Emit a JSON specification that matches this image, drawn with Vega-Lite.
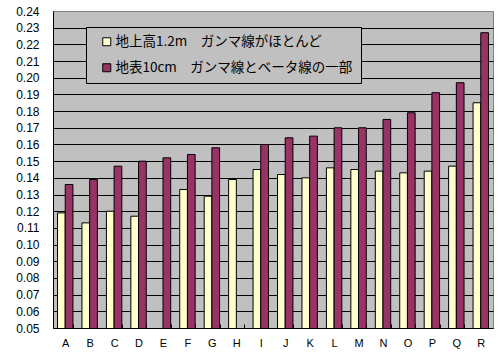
{
  "$schema": "https://vega.github.io/schema/vega-lite/v6.json",
  "width": 440,
  "height": 317,
  "autosize": {"type": "none"},
  "padding": {"left": 53, "top": 11, "right": 7, "bottom": 26},
  "background": "white",
  "config": {
    "view": {"fill": "#C0C0C0", "stroke": "#808080", "strokeWidth": 1},
    "font": "Liberation Sans"
  },
  "data": {
    "values": [
      {"cat": "A", "series": "地上高1.2m\u3000ガンマ線がほとんど", "value": 0.119},
      {"cat": "A", "series": "地表10cm\u3000ガンマ線とベータ線の一部", "value": 0.136},
      {"cat": "B", "series": "地上高1.2m\u3000ガンマ線がほとんど", "value": 0.113},
      {"cat": "B", "series": "地表10cm\u3000ガンマ線とベータ線の一部", "value": 0.139},
      {"cat": "C", "series": "地上高1.2m\u3000ガンマ線がほとんど", "value": 0.120},
      {"cat": "C", "series": "地表10cm\u3000ガンマ線とベータ線の一部", "value": 0.147},
      {"cat": "D", "series": "地上高1.2m\u3000ガンマ線がほとんど", "value": 0.117},
      {"cat": "D", "series": "地表10cm\u3000ガンマ線とベータ線の一部", "value": 0.150},
      {"cat": "E", "series": "地表10cm\u3000ガンマ線とベータ線の一部", "value": 0.152},
      {"cat": "F", "series": "地上高1.2m\u3000ガンマ線がほとんど", "value": 0.133},
      {"cat": "F", "series": "地表10cm\u3000ガンマ線とベータ線の一部", "value": 0.154},
      {"cat": "G", "series": "地上高1.2m\u3000ガンマ線がほとんど", "value": 0.129},
      {"cat": "G", "series": "地表10cm\u3000ガンマ線とベータ線の一部", "value": 0.158},
      {"cat": "H", "series": "地上高1.2m\u3000ガンマ線がほとんど", "value": 0.139},
      {"cat": "I", "series": "地上高1.2m\u3000ガンマ線がほとんど", "value": 0.145},
      {"cat": "I", "series": "地表10cm\u3000ガンマ線とベータ線の一部", "value": 0.160},
      {"cat": "J", "series": "地上高1.2m\u3000ガンマ線がほとんど", "value": 0.142},
      {"cat": "J", "series": "地表10cm\u3000ガンマ線とベータ線の一部", "value": 0.164},
      {"cat": "K", "series": "地上高1.2m\u3000ガンマ線がほとんど", "value": 0.140},
      {"cat": "K", "series": "地表10cm\u3000ガンマ線とベータ線の一部", "value": 0.165},
      {"cat": "L", "series": "地上高1.2m\u3000ガンマ線がほとんど", "value": 0.146},
      {"cat": "L", "series": "地表10cm\u3000ガンマ線とベータ線の一部", "value": 0.170},
      {"cat": "M", "series": "地上高1.2m\u3000ガンマ線がほとんど", "value": 0.145},
      {"cat": "M", "series": "地表10cm\u3000ガンマ線とベータ線の一部", "value": 0.170},
      {"cat": "N", "series": "地上高1.2m\u3000ガンマ線がほとんど", "value": 0.144},
      {"cat": "N", "series": "地表10cm\u3000ガンマ線とベータ線の一部", "value": 0.175},
      {"cat": "O", "series": "地上高1.2m\u3000ガンマ線がほとんど", "value": 0.143},
      {"cat": "O", "series": "地表10cm\u3000ガンマ線とベータ線の一部", "value": 0.179},
      {"cat": "P", "series": "地上高1.2m\u3000ガンマ線がほとんど", "value": 0.144},
      {"cat": "P", "series": "地表10cm\u3000ガンマ線とベータ線の一部", "value": 0.191},
      {"cat": "Q", "series": "地上高1.2m\u3000ガンマ線がほとんど", "value": 0.147},
      {"cat": "Q", "series": "地表10cm\u3000ガンマ線とベータ線の一部", "value": 0.197},
      {"cat": "R", "series": "地上高1.2m\u3000ガンマ線がほとんど", "value": 0.185},
      {"cat": "R", "series": "地表10cm\u3000ガンマ線とベータ線の一部", "value": 0.227}
    ]
  },
  "mark": {"type": "bar", "stroke": "black", "strokeWidth": 1, "clip": true},
  "encoding": {
    "x": {
      "field": "cat",
      "type": "nominal",
      "scale": {"paddingInner": 0.37, "paddingOuter": 0.185},
      "axis": {
        "title": null,
        "labelAngle": 0,
        "labelFontSize": 11,
        "labelColor": "black",
        "labelPadding": 13,
        "domainColor": "black",
        "domainWidth": 1,
        "tickBand": "extent",
        "tickColor": "black",
        "tickSize": -4,
        "grid": false
      }
    },
    "xOffset": {
      "field": "series",
      "type": "nominal",
      "sort": ["地上高1.2m\u3000ガンマ線がほとんど", "地表10cm\u3000ガンマ線とベータ線の一部"],
      "scale": {"paddingInner": 0, "paddingOuter": 0}
    },
    "y": {
      "field": "value",
      "type": "quantitative",
      "scale": {"domain": [0.05, 0.24], "nice": false, "zero": false},
      "axis": {
        "title": null,
        "values": [0.05, 0.06, 0.07, 0.08, 0.09, 0.10, 0.11, 0.12, 0.13, 0.14, 0.15, 0.16, 0.17, 0.18, 0.19, 0.20, 0.21, 0.22, 0.23, 0.24],
        "format": ".2f",
        "labelFontSize": 12,
        "labelColor": "black",
        "labelPadding": 14,
        "ticks": false,
        "domainColor": "black",
        "domainWidth": 1,
        "grid": true,
        "gridColor": {"condition": {"test": "datum.value >= 0.2395", "value": "#808080"}, "value": "black"},
        "gridWidth": 1,
        "gridOpacity": 1
      }
    },
    "color": {
      "field": "series",
      "type": "nominal",
      "sort": ["地上高1.2m\u3000ガンマ線がほとんど", "地表10cm\u3000ガンマ線とベータ線の一部"],
      "scale": {"range": ["#FFFFCC", "#993366"]},
      "legend": {
        "title": null,
        "orient": "none",
        "legendX": 33,
        "legendY": 16,
        "direction": "vertical",
        "fillColor": "#C0C0C0",
        "strokeColor": "black",
        "padding": 8,
        "rowPadding": 11,
        "symbolType": "square",
        "symbolSize": 64,
        "symbolStrokeColor": "black",
        "symbolStrokeWidth": 1,
        "symbolOpacity": 1,
        "symbolOffset": 6,
        "labelOffset": 2,
        "labelFont": "Noto Sans CJK JP",
        "labelFontSize": 13.5,
        "labelColor": "black",
        "labelLimit": 400
      }
    }
  }
}
